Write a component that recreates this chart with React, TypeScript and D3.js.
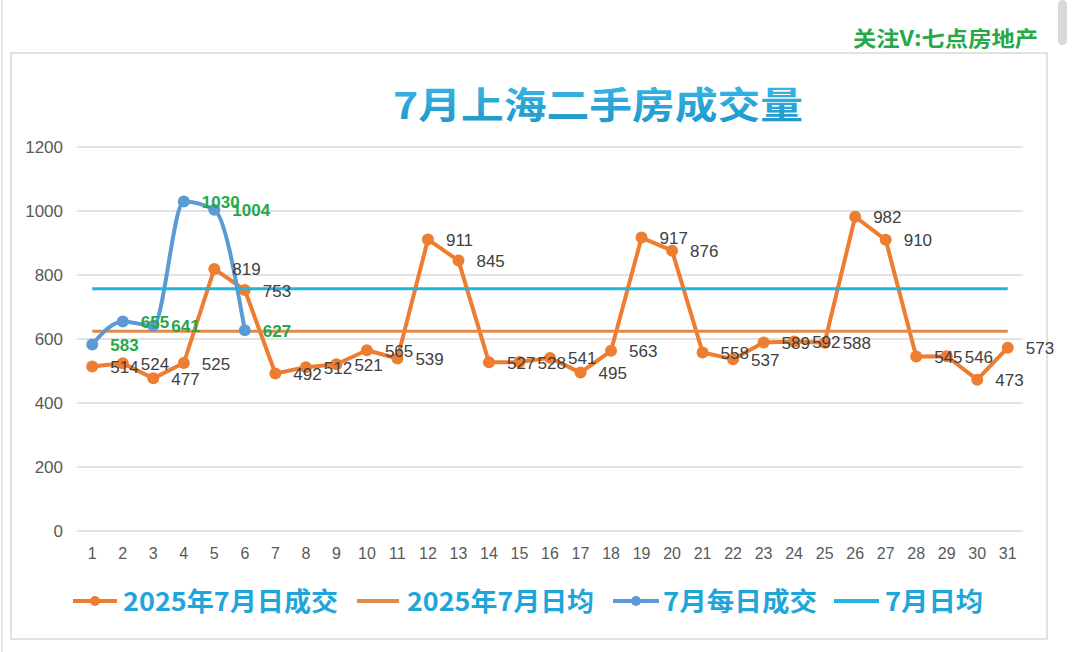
import React from "react";
import * as d3 from "d3";

// 7月 daily deals, 2025 (orange) and this July so far (blue)
const days = d3.range(1, 32).map(String);
const deals2025 = [514, 524, 477, 525, 819, 753, 492, 512, 521, 565, 539, 911, 845, 527, 528, 541, 495, 563, 917, 876, 558, 537, 589, 592, 588, 982, 910, 545, 546, 473, 573];
const dealsJuly = [583, 655, 641, 1030, 1004, 627];
const avg2025 = 624;
const avgJuly = 757;
const yTicks = [0, 200, 400, 600, 800, 1000, 1200];
const legendItems = ["2025年7月日成交", "2025年7月日均", "7月每日成交", "7月日均"];

const W = 1080;
const H = 652;
const ORANGE = "#ED7D31";
const ORANGE_AVG = "#E08B4B";
const BLUE = "#5B9BD5";
const CYAN = "#22B4DA";
const TITLE = "#1FA5D8";
const GREEN = "#25A848";
const NUM_FONT = "'Liberation Sans', Arial, sans-serif";
const CJK_FONT = "'Noto Sans CJK SC', 'Noto Sans', sans-serif";

export default function App() {
  const x = d3.scalePoint<string>().domain(days).range([77, 1023]).padding(0.5);
  const y = d3.scaleLinear().domain([0, 1200]).range([531, 147]);

  const straight = d3.line<number>().x((_, i) => x(days[i])!).y((d) => y(d));
  const smooth = d3
    .line<number>()
    .x((_, i) => x(days[i])!)
    .y((d) => y(d))
    .curve(d3.curveMonotoneX);

  const flat = (v: number) =>
    d3.line<string>().x((d) => x(d)!).y(() => y(v))(days) ?? "";

  // legend layout: [line start, line end, text start, text width]
  const legendPos: [number, number, number, number][] = [
    [73, 117, 123, 215],
    [357, 399, 407, 187],
    [613, 659, 663, 154],
    [834, 879, 885, 98],
  ];
  const legendColors = [ORANGE, ORANGE_AVG, BLUE, CYAN];
  const legendMarker = [true, false, true, false];

  return (
    <div style={{ position: "absolute", left: 0, top: 0, width: W, height: H, background: "#fff" }}>
      <svg width={W} height={H} style={{ display: "block" }}>
        <defs>
          <linearGradient id="titleGrad" x1="0" y1="0" x2="0" y2="1">
            <stop offset="0" stopColor="#3cbdea" />
            <stop offset="1" stopColor="#1c92c6" />
          </linearGradient>
        </defs>
        <rect width={W} height={H} fill="#fff" />
        <line x1={2} x2={2} y1={0} y2={H} stroke="#e6e6e6" strokeWidth={2} />
        <rect x={1058} y={0} width={9} height={45} rx={4.5} fill="#d9d9d9" />

        {/* watermark */}
        <text
          x={853}
          y={46}
          textLength={185}
          lengthAdjust="spacingAndGlyphs"
          fontFamily={CJK_FONT}
          fontWeight={700}
          fontSize={21}
          fill={GREEN}
        >
          关注V:七点房地产
        </text>

        {/* card */}
        <rect x={11} y={53} width={1036} height={586} fill="#fff" stroke="#d9d9d9" strokeWidth={1.5} />

        {/* title */}
        <text
          x={393}
          y={119}
          textLength={410}
          lengthAdjust="spacingAndGlyphs"
          fontFamily={CJK_FONT}
          fontWeight={700}
          fontSize={37}
          fill="url(#titleGrad)"
        >
          7月上海二手房成交量
        </text>

        {/* gridlines + y labels */}
        {yTicks.map((t) => (
          <g key={t}>
            <line x1={77} x2={1023} y1={y(t)} y2={y(t)} stroke="#d9d9d9" strokeWidth={1.5} />
            <text
              x={63}
              y={y(t)}
              textAnchor="end"
              dominantBaseline="central"
              fontFamily={NUM_FONT}
              fontSize={17}
              fill="#595959"
            >
              {t}
            </text>
          </g>
        ))}

        {/* x labels */}
        {days.map((d) => (
          <text
            key={d}
            x={x(d)}
            y={553}
            textAnchor="middle"
            dominantBaseline="central"
            fontFamily={NUM_FONT}
            fontSize={16}
            fill="#595959"
          >
            {d}
          </text>
        ))}

        {/* series */}
        <path d={straight(deals2025) ?? ""} fill="none" stroke={ORANGE} strokeWidth={4} strokeLinejoin="round" />
        {deals2025.map((v, i) => (
          <circle key={i} cx={x(days[i])} cy={y(v)} r={6} fill={ORANGE} />
        ))}
        <path d={flat(avg2025)} fill="none" stroke={ORANGE_AVG} strokeWidth={3} />
        <path d={smooth(dealsJuly) ?? ""} fill="none" stroke={BLUE} strokeWidth={4} />
        {dealsJuly.map((v, i) => (
          <circle key={i} cx={x(days[i])} cy={y(v)} r={6} fill={BLUE} />
        ))}
        <path d={flat(avgJuly)} fill="none" stroke={CYAN} strokeWidth={3} />

        {/* data labels */}
        {deals2025.map((v, i) => (
          <text
            key={i}
            x={x(days[i])! + 18}
            y={y(v) + 1}
            dominantBaseline="central"
            fontFamily={NUM_FONT}
            fontSize={17}
            fill="#404040"
          >
            {v}
          </text>
        ))}
        {dealsJuly.map((v, i) => (
          <text
            key={i}
            x={x(days[i])! + 18}
            y={y(v) + 1}
            dominantBaseline="central"
            fontFamily={NUM_FONT}
            fontWeight={700}
            fontSize={17}
            fill={GREEN}
          >
            {v}
          </text>
        ))}

        {/* legend */}
        {legendItems.map((name, i) => {
          const [l0, l1, tx, tw] = legendPos[i];
          return (
            <g key={name}>
              <line x1={l0} x2={l1} y1={601} y2={601} stroke={legendColors[i]} strokeWidth={4} />
              {legendMarker[i] && <circle cx={(l0 + l1) / 2} cy={601} r={5} fill={legendColors[i]} />}
              <text
                x={tx}
                y={611}
                textLength={tw}
                lengthAdjust="spacingAndGlyphs"
                fontFamily={CJK_FONT}
                fontWeight={700}
                fontSize={26}
                fill={TITLE}
              >
                {name}
              </text>
            </g>
          );
        })}
      </svg>
    </div>
  );
}
